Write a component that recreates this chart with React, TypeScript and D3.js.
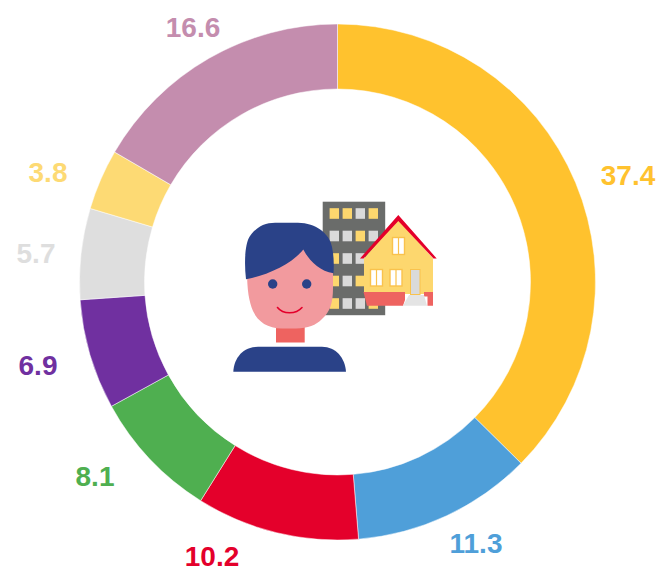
import React from "react";
import * as d3 from "d3";

const labels = ["37.4", "11.3", "10.2", "8.1", "6.9", "5.7", "3.8", "16.6"];
const values = [37.4, 11.3, 10.2, 8.1, 6.9, 5.7, 3.8, 16.6];
const colors = ["#FFC22E", "#4F9FD9", "#E4002B", "#4FAF50", "#7030A0", "#DEDEDE", "#FDDA74", "#C48DAE"];

const width = 661;
const height = 568;
const cx = 337.5;
const cy = 282;
const outer = 258;
const inner = 193;

// hand placed in the original, they don't sit on the centroids
const labelPos = [[628, 174.5], [476, 542.5], [212, 556], [95, 475.5], [38, 364.5], [36, 252.5], [48, 171.5], [193, 26.5]];

// icon windows, y = yellow, g = grey
const windowRows = ["yygy", "ggyg", "yggg", "ygyg", "yggy"];
const windowCols = [334.3, 347.3, 360.3, 373.3];
const windowYs = [213.5, 236, 258.5, 281, 303.5];

function Icon() {
  return (
    <g filter="url(#soft)">
      <rect x={322.7} y={201.7} width={62.5} height={113.5} fill="#6b6c6b" />
      {windowRows.map((row, i) =>
        row.split("").map((c, j) => (
          <rect key={i + "-" + j} x={windowCols[j] - 4.7} y={windowYs[i] - 5.3} width={9.4} height={10.6}
            fill={c === "y" ? "#FDD76E" : "#DADADA"} />
        ))
      )}
      {/* house */}
      <path d="M364 258.5L398.3 219L433 258.5V294H364Z" fill="#FDD76E" />
      <path d="M363.5 292H433V305.7H427.5V296.5H424V292H405V300L403 305.7H367Z" fill="#EE6461" />
      <path d="M360 258.5L398.3 215L436.7 258.5H433.5L398.3 221L363.5 258.5Z" fill="#E4002B" />
      <rect x={392.5} y={237.5} width={12} height={17} fill="#FFF" stroke="#F9C24D" strokeWidth={1.4} />
      <rect x={370.5} y={269.5} width={12} height={16.5} fill="#FFF" stroke="#F9C24D" strokeWidth={1.4} />
      <rect x={390} y={269.5} width={12} height={16.5} fill="#FFF" stroke="#F9C24D" strokeWidth={1.4} />
      <path d="M398.5 237.5V254.5M376.5 269.5V286M396 269.5V286" stroke="#F9C24D" strokeWidth={1.2} />
      <rect x={410.5} y={269.5} width={9.5} height={25} fill="#DADADA" stroke="#F9C24D" strokeWidth={1} />
      <path d="M409 295H424L427 305.7H403Z" fill="#E4E4E4" />
      {/* person */}
      <rect x={276} y={322} width={28.7} height={20.5} fill="#EE6461" />
      <path d="M247 270L303 240L333 265V288C333 303 330 312 322 319C316 325 308 328.5 296 328.5H282C268 328.5 258 322 253 311C249 302 247 290 247 270Z" fill="#F29A9E" />
      <path d="M246 279.3C244 262 245 243 250 236C257 226 266 222.7 275 222.7H298C316 222.7 330 234 332 247C334 256 334 266 333.5 273.3C320 271 310 262 303.3 249.5C292 264 268 275 246 279.3Z" fill="#2A4288" />
      <circle cx={272.7} cy={284} r={4.7} fill="#2A4288" />
      <circle cx={306.7} cy={284} r={4.7} fill="#2A4288" />
      <path d="M277.5 307.5C283 314.5 296 314.5 302 307.5" fill="none" stroke="#E4002B" strokeWidth={1.6} strokeLinecap="round" />
      <path d="M233.3 371.7C234 358 243 346.7 258 346.7H322C336 346.7 345 358 346 371.7Z" fill="#2A4288" />
    </g>
  );
}

export default function App() {
  const pie = d3.pie<number>().sort(null);
  const arc = d3.arc<d3.PieArcDatum<number>>().innerRadius(inner).outerRadius(outer);
  const slices = pie(values);

  return (
    <svg width={width} height={height} style={{ position: "absolute", left: 0, top: 0, display: "block" }}>
      <defs>
        <filter id="soft" x="-5%" y="-5%" width="110%" height="110%">
          <feGaussianBlur stdDeviation={0.45} />
        </filter>
      </defs>
      <g transform={`translate(${cx},${cy})`}>
        {slices.map((d, i) => (
          <path key={labels[i]} d={arc(d) ?? ""} fill={colors[i]} stroke="#fff" strokeWidth={0.5} />
        ))}
      </g>
      <Icon />
      {labels.map((t, i) => (
        <text key={t} x={labelPos[i][0]} y={labelPos[i][1]} dy="0.36em" textAnchor="middle"
          fontFamily="'Liberation Sans', Arial, sans-serif" fontWeight="bold" fontSize={28} fill={colors[i]}>
          {t}
        </text>
      ))}
    </svg>
  );
}
